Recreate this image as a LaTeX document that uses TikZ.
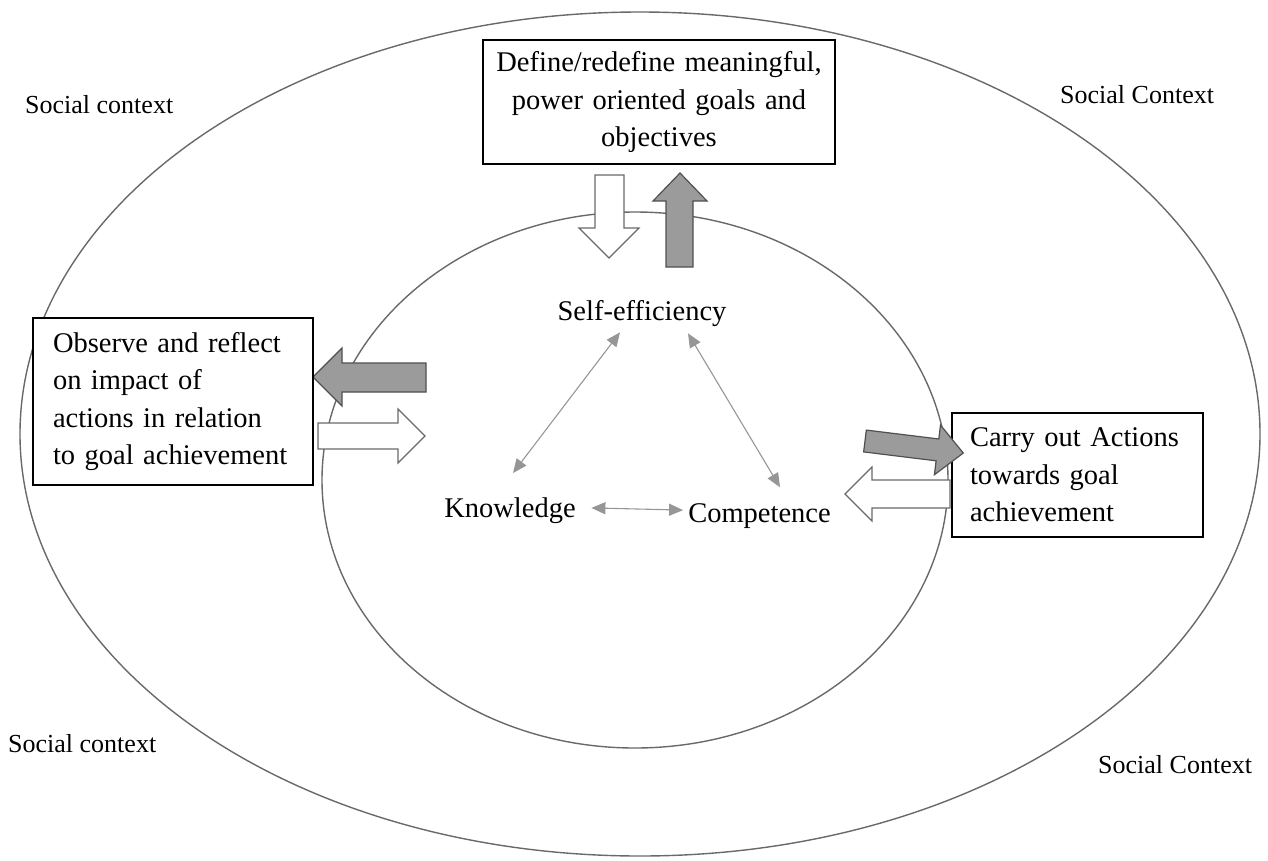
\documentclass[tikz,border=0pt]{standalone}
\usepackage{fontspec}
\setmainfont{Liberation Serif}
\usetikzlibrary{arrows.meta,calc}
\definecolor{ellcol}{RGB}{105,105,105}
\definecolor{blockgray}{RGB}{155,155,155}
\definecolor{blockedge}{RGB}{80,80,80}
\definecolor{thincol}{RGB}{150,150,150}
\begin{document}
\begin{tikzpicture}[x=1pt,y=-1pt,
  ring/.style={draw=ellcol,line width=1.4pt},
  goalbox/.style={draw=black,line width=1.2pt,fill=white,font=\fontsize{28.5}{37.5}\selectfont,inner sep=0pt},
  ctx/.style={font=\fontsize{26}{30}\selectfont,inner sep=0pt,anchor=base west},
  core/.style={font=\fontsize{28.5}{34}\selectfont,inner sep=0pt,anchor=base},
  link/.style={draw=thincol,line width=1.1pt,{Triangle[length=14pt,width=12pt]}-{Triangle[length=14pt,width=12pt]}},
  grayblock/.style={draw=blockedge,fill=blockgray,line width=1.2pt},
  whiteblock/.style={draw=ellcol,fill=white,line width=1.2pt}]
\useasboundingbox (0,0) rectangle (1268,860);

% rings
\draw[ring] (640,434) ellipse [x radius=620, y radius=422];
\draw[ring] (635,480) ellipse [x radius=313, y radius=268];

% social context labels
\node[ctx] (sctl) at (25,113) {Social context};
\node[ctx] (sctr) at (1060,103) {Social Context};
\node[ctx] (scbl) at (8,752) {Social context};
\node[ctx] (scbr) at (1098,773) {Social Context};

% block arrows
\draw[whiteblock] (595,175) -- (624,175) -- (624,228) -- (639,228) -- (609,258) -- (579,228) -- (595,228) -- cycle;
\draw[grayblock] (666,267) -- (693,267) -- (693,201) -- (707,201) -- (680,173) -- (653,201) -- (666,201) -- cycle;
\draw[grayblock] (426,363) -- (342,363) -- (342,348) -- (313,377) -- (342,406) -- (342,392) -- (426,392) -- cycle;
\draw[whiteblock] (318,423) -- (398,423) -- (398,409) -- (425,436) -- (398,463) -- (398,449) -- (318,449) -- cycle;
\draw[whiteblock] (950,480) -- (872,480) -- (872,467) -- (845,494) -- (872,521) -- (872,508) -- (950,508) -- cycle;

% boxes
\node[goalbox,text width=352pt,minimum height=124pt,align=center] (goals) at (659,102)
  {Define/redefine meaningful,\\power oriented goals and\\objectives};
\node[goalbox,inner xsep=20pt,text width=240pt,minimum height=167pt,align=left] (observe) at (173,401.5)
  {Observe and reflect\\on impact of\\actions in relation\\to goal achievement};
\node[goalbox,inner xsep=18pt,text width=215pt,minimum height=124pt,align=left] (carry) at (1077.5,475)
  {Carry out Actions\\towards goal\\achievement};

\begin{scope}[shift={(865,441)},rotate=-7]
\draw[grayblock] (0,-11) -- (73,-11) -- (73,-25) -- (99,0) -- (73,25) -- (73,11) -- (0,11) -- cycle;
\end{scope}

% core triangle
\node[core] (self) at (642,320) {Self-efficiency};
\node[core] (know) at (510,517) {Knowledge};
\node[core] (comp) at (759.5,522) {Competence};

\draw[link] ($(self.south)+(-22,6)$) -- ($(know.north)+(3,-24)$);
\draw[link] ($(self.south)+(46,7)$) -- ($(comp.north)+(20.5,-15.7)$);
\draw[link] ($(know.east)+(15.5,-2.3)$) -- ($(comp.west)+(-5,-5.5)$);
\end{tikzpicture}
\end{document}
